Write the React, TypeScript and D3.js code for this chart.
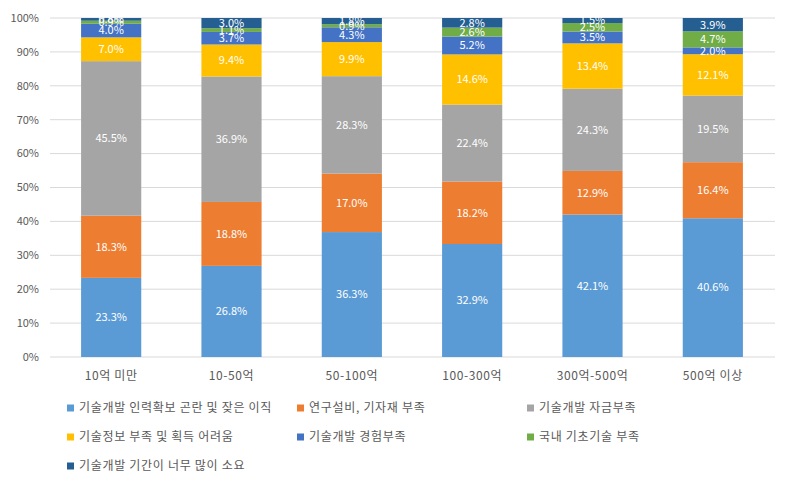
import React from "react";
import * as d3 from "d3";

const categories = ["10억 미만", "10-50억", "50-100억", "100-300억", "300억-500억", "500억 이상"];
const seriesNames = [
  "기술개발 인력확보 곤란 및 잦은 이직",
  "연구설비, 기자재 부족",
  "기술개발 자금부족",
  "기술정보 부족 및 획득 어려움",
  "기술개발 경험부족",
  "국내 기초기술 부족",
  "기술개발 기간이 너무 많이 소요",
];
const s1 = [23.3, 26.8, 36.3, 32.9, 42.1, 40.6];
const s2 = [18.3, 18.8, 17.0, 18.2, 12.9, 16.4];
const s3 = [45.5, 36.9, 28.3, 22.4, 24.3, 19.5];
const s4 = [7.0, 9.4, 9.9, 14.6, 13.4, 12.1];
const s5 = [4.0, 3.7, 4.3, 5.2, 3.5, 2.0];
const s6 = [0.9, 1.1, 0.9, 2.6, 2.5, 4.7];
const s7 = [0.8, 3.0, 1.8, 2.8, 1.5, 3.9];
const yTicks = [0, 10, 20, 30, 40, 50, 60, 70, 80, 90, 100];
const colors = ["#5b9bd5", "#ed7d31", "#a5a5a5", "#ffc000", "#4472c4", "#70ad47", "#255e91"];

const allSeries = [s1, s2, s3, s4, s5, s6, s7];

const W = 789, H = 489;
const plot = { left: 51, right: 773, top: 18, bottom: 357 };
const FONT = "'Noto Sans CJK KR', 'Noto Sans', sans-serif";

export default function App() {
  const x = d3.scaleBand<string>().domain(categories).range([plot.left, plot.right]).paddingInner(0.5).paddingOuter(0.25);
  const y = d3.scaleLinear().domain([0, 100]).range([plot.bottom, plot.top]);

  const rows = categories.map((c, i) => {
    const r: any = { cat: c };
    const total = allSeries.reduce((a, s) => a + s[i], 0);
    allSeries.forEach((s, k) => (r["k" + k] = (s[i] / total) * 100));
    return r;
  });
  const stack = d3.stack<any>().keys(allSeries.map((_, k) => "k" + k));
  const stacked = stack(rows);

  const legendPos = [
    [72, 408], [302, 408], [532, 408],
    [72, 437], [302, 437], [532, 437],
    [72, 466],
  ];

  return (
    <svg width={W} height={H} style={{ position: "absolute", left: 0, top: 0, fontFamily: FONT }}>
      <rect width={W} height={H} fill="#fff" />
      {yTicks.map((t) => (
        <g key={t}>
          <line x1={plot.left - 1} x2={plot.right + 2} y1={y(t)} y2={y(t)} stroke="#d9d9d9" strokeWidth={1} />
          <text x={39} y={y(t)} dy="0.35em" textAnchor="end" fontSize={11} fill="#595959">{t}%</text>
        </g>
      ))}
      {stacked.map((layer, k) => (
        <g key={k} fill={colors[k]}>
          {layer.map((d, i) => (
            <rect key={i} x={x(categories[i])} width={x.bandwidth()} y={y(d[1])} height={y(d[0]) - y(d[1])} />
          ))}
        </g>
      ))}
      {stacked.map((layer, k) => (
        <g key={"l" + k}>
          {layer.map((d, i) => (
            <text key={i} x={(x(categories[i]) as number) + x.bandwidth() / 2} y={(y(d[0]) + y(d[1])) / 2} dy="0.35em"
              textAnchor="middle" fontSize={11} fill="#ffffff">
              {allSeries[k][i].toFixed(1)}%
            </text>
          ))}
        </g>
      ))}
      {categories.map((c) => (
        <text key={c} x={(x(c) as number) + x.bandwidth() / 2} y={376} dy="0.35em" textAnchor="middle" fontSize={12} letterSpacing={0.6} fill="#595959">{c}</text>
      ))}
      {seriesNames.map((n, k) => (
        <g key={n}>
          <rect x={legendPos[k][0] - 5} y={legendPos[k][1] - 3.5} width={7} height={7} fill={colors[k]} />
          <text x={legendPos[k][0] + 7} y={legendPos[k][1]} dy="0.35em" fontSize={12} letterSpacing={0.7} fill="#595959">{n}</text>
        </g>
      ))}
    </svg>
  );
}
